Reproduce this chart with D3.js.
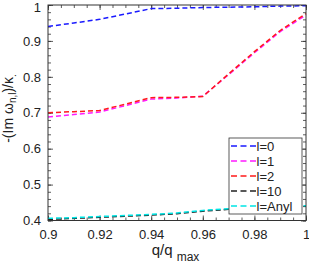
<!DOCTYPE html>
<html>
<head>
<meta charset="utf-8">
<script src="https://cdn.jsdelivr.net/npm/d3@7"></script>
<style>
  body { margin: 0; background: #fff; }
  svg { display: block; font-family: "Liberation Sans", Arial, sans-serif; }
</style>
</head>
<body>
<div id="chart"></div>
<script>
// q/q_max sample points
var qs = [0.90, 0.91, 0.92, 0.93, 0.94, 0.95, 0.96, 0.97, 0.98, 0.99, 1.00];

var l0    = [0.940, 0.950, 0.960, 0.975, 0.990, 0.991, 0.993, 0.994, 0.995, 0.997, 0.998];
var l1    = [0.688, 0.695, 0.702, 0.720, 0.738, 0.741, 0.746, 0.806, 0.867, 0.926, 0.972];
var l2    = [0.700, 0.703, 0.706, 0.724, 0.742, 0.743, 0.745, 0.808, 0.870, 0.929, 0.976];
var l10   = [0.403, 0.406, 0.409, 0.412, 0.415, 0.419, 0.426, 0.431, 0.435, 0.438, 0.440];
var lAnyl = [0.406, 0.408, 0.411, 0.414, 0.417, 0.421, 0.428, 0.433, 0.437, 0.439, 0.441];

var seriesNames  = ["l=0", "l=1", "l=2", "l=10", "l=Anyl"];
var seriesColors = ["#1a1aff", "#ff1aff", "#ff1a1a", "#222222", "#00e5e5"];
var seriesData   = [l0, l1, l2, l10, lAnyl];

var xTicks = [0.9, 0.92, 0.94, 0.96, 0.98, 1];
var yTicks = [0.4, 0.5, 0.6, 0.7, 0.8, 0.9, 1];

var W = 309, H = 264;
var pL = 48, pR = 306, pT = 5, pB = 220.5;

var svg = d3.select("#chart").append("svg").attr("width", W).attr("height", H);

var x = d3.scaleLinear().domain([0.9, 1]).range([pL, pR]);
var y = d3.scaleLinear().domain([0.4, 1]).range([pB, pT]);

var xMinor = d3.range(0, 21).map(function(i){ return 0.9 + i * 0.005; });
var yMinor = d3.range(0, 31).map(function(i){ return 0.4 + i * 0.02; });

function styleAxis(g){
    g.select(".domain").remove();
    g.selectAll("line").attr("stroke", "#333").attr("stroke-width", 0.8);
    g.selectAll("text").attr("font-size", "13px").attr("fill", "#222").attr("font-family", "Liberation Sans, Arial, sans-serif");
}

// minor ticks, all sides
svg.append("g").attr("transform", "translate(0," + pB + ")")
    .call(d3.axisBottom(x).tickValues(xMinor).tickSize(-3).tickFormat("")).call(styleAxis);
svg.append("g").attr("transform", "translate(0," + pT + ")")
    .call(d3.axisTop(x).tickValues(xMinor).tickSize(-3).tickFormat("")).call(styleAxis);
svg.append("g").attr("transform", "translate(" + pL + ",0)")
    .call(d3.axisLeft(y).tickValues(yMinor).tickSize(-3).tickFormat("")).call(styleAxis);
svg.append("g").attr("transform", "translate(" + pR + ",0)")
    .call(d3.axisRight(y).tickValues(yMinor).tickSize(-3).tickFormat("")).call(styleAxis);

// major ticks
svg.append("g").attr("transform", "translate(0," + pB + ")")
    .call(d3.axisBottom(x).tickValues(xTicks).tickSize(-5).tickPadding(9.3).tickFormat(d3.format("~g"))).call(styleAxis);
svg.append("g").attr("transform", "translate(0," + pT + ")")
    .call(d3.axisTop(x).tickValues(xTicks).tickSize(-5).tickFormat("")).call(styleAxis);
var yAx = svg.append("g").attr("transform", "translate(" + pL + ",0)")
    .call(d3.axisLeft(y).tickValues(yTicks).tickSize(-5).tickPadding(7).tickFormat(d3.format("~g"))).call(styleAxis);
// top label "1" is pushed inside the picture, as in the original
yAx.selectAll(".tick").filter(function(d){ return d === 1; }).select("text").attr("dy", "0.52em");
svg.append("g").attr("transform", "translate(" + pR + ",0)")
    .call(d3.axisRight(y).tickValues(yTicks).tickSize(-5).tickFormat("")).call(styleAxis);

// lines
var line = d3.line()
    .x(function(d, i){ return x(qs[i]); })
    .y(function(d){ return y(d); });

seriesData.forEach(function(s, k){
    svg.append("path")
        .datum(s)
        .attr("d", line)
        .attr("fill", "none")
        .attr("stroke", seriesColors[k])
        .attr("stroke-width", 1.5)
        .attr("stroke-dasharray", "5,3");
});

// frame
svg.append("rect")
    .attr("x", pL).attr("y", pT)
    .attr("width", pR - pL).attr("height", pB - pT)
    .attr("fill", "none").attr("stroke", "#333").attr("stroke-width", 1);

// legend
var lg = svg.append("g").attr("transform", "translate(229,138)");
lg.append("rect").attr("width", 73).attr("height", 76)
    .attr("fill", "#fff").attr("stroke", "#333").attr("stroke-width", 0.8);
seriesNames.forEach(function(n, k){
    var yy = 8 + k * 15;
    lg.append("line").attr("x1", 2).attr("x2", 27).attr("y1", yy).attr("y2", yy)
        .attr("stroke", seriesColors[k]).attr("stroke-width", 1.5).attr("stroke-dasharray", "6,3.5");
    lg.append("text").attr("x", 27.5).attr("y", yy).attr("dy", "0.36em")
        .attr("font-size", "13px").attr("fill", "#222").text(n);
});

// x label
var xl = svg.append("text").attr("x", 175.5).attr("y", 254.5).attr("text-anchor", "middle")
    .attr("font-size", "15px").attr("fill", "#222");
xl.append("tspan").text("q/q ");
xl.append("tspan").attr("font-size", "12px").attr("dy", "6.5").text("max");

// y label
var yl = svg.append("text").attr("transform", "translate(13,108.5) rotate(-90)")
    .attr("text-anchor", "middle").attr("fill", "#222").attr("font-size", "14px");
yl.append("tspan").text("-(Im ω");
yl.append("tspan").attr("font-size", "10px").attr("dy", "3").text("n,l");
yl.append("tspan").attr("dy", "-3").text(")/κ");
yl.append("tspan").attr("font-size", "10px").attr("dy", "3").text(".");
</script>
</body>
</html>
